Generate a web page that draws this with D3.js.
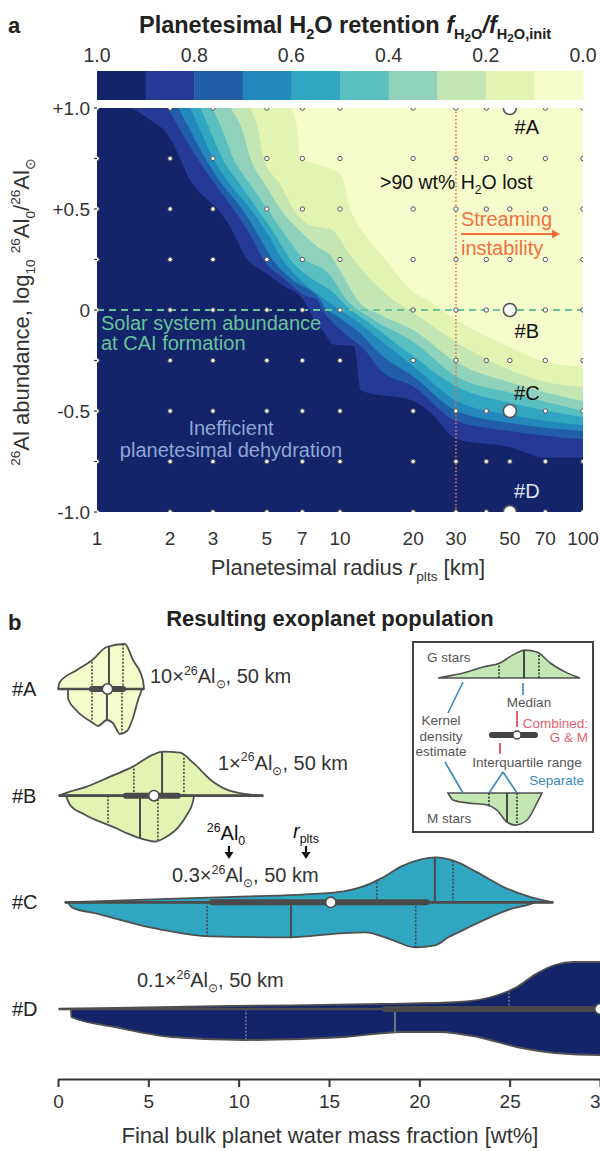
<!DOCTYPE html>
<html>
<head>
<meta charset="utf-8">
<script src="https://cdn.jsdelivr.net/npm/d3@7"></script>
<style>
  body { margin: 0; background: #fff; }
  svg { display: block; }
  text { font-family: "Liberation Sans", Arial, Helvetica, sans-serif; }
</style>
</head>
<body>
<svg id="chart" width="600" height="1151"></svg>
<script>
// ---------------- data: panel a ----------------
const levelColors = ["#14246b", "#243a95", "#225ea7", "#2389bc", "#30a6c2",
                     "#5abfc0", "#8fd1ba", "#c3e6b3", "#e3f3b2", "#f6fbcc"];
const colorbarTicks = [1.0, 0.8, 0.6, 0.4, 0.2, 0.0];
const retentionThresholds = [0.9, 0.8, 0.7, 0.6, 0.5, 0.4, 0.3, 0.2, 0.1];
const radiusTicks = [1, 2, 3, 5, 7, 10, 20, 30, 50, 70, 100];
const abundanceTicks = [1, 0.5, 0, -0.5, -1];
const abundanceTickLabels = ["+1.0", "+0.5", "0", "-0.5", "-1.0"];
const abundanceMinorTicks = [0.75, 0.25, -0.25, -0.75];
const gridRadii = [1, 2, 3, 5, 7, 10, 20, 30, 40, 50, 70, 100];
const gridAbundances = [1, 0.75, 0.5, 0.25, 0, -0.25, -0.5, -0.75, -1];
const streamingRadius = 30;

// retention contour lines [radius km, log10 26Al0/26Al_sun], one per threshold
const contour90 = [[1.39,1.0],[1.61,0.95],[2.0,0.85],[2.2,0.75],[2.35,0.67],[2.66,0.58],[3.13,0.5],[3.54,0.41],[4.16,0.25],[4.84,0.19],[5.85,0.12],[7.07,0.05],[7.93,-0.06],[8.71,-0.12],[9.31,-0.17],[11.4,-0.18],[12.2,-0.4],[20.1,-0.45],[23.6,-0.51],[30.2,-0.64],[50.5,-0.68],[69,-0.73],[100,-0.73]];
const contour80 = [[1.96,1.0],[2.2,0.89],[2.59,0.75],[3.07,0.62],[3.64,0.5],[4.28,0.37],[4.84,0.25],[5.96,0.15],[7.21,0.07],[8.08,0.05],[8.47,0],[9.14,-0.05],[10.5,-0.12],[12.7,-0.2],[14.7,-0.3],[20.1,-0.38],[30.2,-0.55],[50.5,-0.6],[100,-0.64]];
const contour70 = [[2.16,1.0],[2.42,0.89],[2.79,0.75],[3.28,0.62],[3.96,0.5],[4.61,0.37],[5.27,0.25],[6.37,0.15],[8.31,0.05],[8.71,0.01],[9.58,-0.025],[12.2,-0.12],[14.7,-0.22],[20.1,-0.33],[30.2,-0.5],[50.5,-0.56],[100,-0.6]];
const contour60 = [[2.42,1.0],[2.66,0.89],[3.01,0.75],[3.54,0.62],[4.28,0.5],[5.07,0.37],[5.79,0.25],[6.87,0.15],[8.71,0.05],[9.31,0.025],[12.2,-0.07],[15.4,-0.17],[20.1,-0.28],[30.2,-0.45],[50.5,-0.52],[100,-0.57]];
const contour50 = [[2.66,1.0],[2.92,0.89],[3.28,0.75],[3.89,0.62],[4.57,0.5],[5.42,0.37],[6.25,0.25],[7.56,0.16],[9.31,0.09],[10.5,0.025],[13.4,-0.07],[20.1,-0.23],[30.2,-0.38],[50.5,-0.46],[100,-0.53]];
const contour40 = [[2.98,1.0],[3.28,0.89],[3.64,0.75],[4.28,0.62],[5.02,0.5],[5.96,0.37],[6.87,0.27],[9.14,0.17],[10.5,0.06],[13.4,-0.04],[20.1,-0.16],[30.2,-0.33],[50.5,-0.41],[100,-0.5]];
const contour30 = [[3.54,1.0],[3.96,0.89],[4.28,0.75],[4.93,0.62],[5.68,0.5],[6.87,0.39],[8.15,0.31],[9.14,0.27],[10.5,0.15],[11.8,0.05],[14.7,-0.025],[20.1,-0.1],[30.2,-0.26],[50.5,-0.36],[100,-0.45]];
const contour20 = [[4.28,1.0],[4.61,0.89],[4.84,0.75],[5.68,0.62],[6.43,0.5],[7.56,0.42],[9.14,0.4],[11.05,0.27],[13.4,0.15],[16.6,0.05],[20.1,-0.015],[30.2,-0.16],[50.5,-0.3],[71.7,-0.36],[100,-0.38]];
const contour10 = [[6.25,1.0],[6.68,0.89],[6.87,0.75],[8.15,0.72],[10.05,0.67],[11.05,0.5],[12.7,0.37],[15.4,0.25],[19.5,0.1],[23.6,0.04],[30.2,-0.05],[47.2,-0.17],[71.7,-0.26],[100,-0.28]];
const contours = [contour90, contour80, contour70, contour60, contour50, contour40, contour30, contour20, contour10];

// ---------------- data: panel b ----------------
const cases = ["#A", "#B", "#C", "#D"];
const caseRadius = [50, 50, 50, 50];
const caseLogAl = [1, 0, -0.5, -1];
const caseAlFactor = ["10", "1", "0.3", "0.1"];
const wtTicks = [0, 5, 10, 15, 20, 25, 30];

// kernel density outlines [water wt%, relative density]; G stars above, M stars below
const kdeG_A = [[0,0],[0.1,0.14],[1.05,0.38],[1.9,0.58],[2.7,0.84],[3.7,0.9],[4.15,0.58],[4.7,0.18],[4.76,0]];
const kdeM_A = [[0.55,0],[0.56,0.2],[1.05,0.44],[1.94,0.68],[2.21,0.74],[2.71,0.62],[3.04,0.68],[3.43,0.9],[3.82,0.84],[4.15,0.58],[4.43,0.22],[4.65,0]];
const kdeG_B = [[0.06,0],[0.5,0.06],[1.6,0.18],[2.88,0.38],[4.15,0.58],[5.26,0.82],[5.81,0.88],[6.75,0.86],[7.47,0.66],[8.58,0.28],[9.68,0.08],[11.35,0]];
const kdeM_B = [[0.44,0],[0.66,0.18],[1.49,0.38],[2.32,0.52],[3.15,0.64],[3.87,0.76],[4.81,0.88],[5.37,0.92],[5.92,0.84],[6.64,0.64],[7.14,0.38],[7.47,0.12],[7.53,0]];
const kdeG_C = [[0.39,0],[5.26,0.06],[10.6,0.12],[13.7,0.16],[15.8,0.22],[16.9,0.32],[18.0,0.5],[19.0,0.72],[20.1,0.86],[20.9,0.9],[22.0,0.82],[23.2,0.6],[24.7,0.3],[26.2,0.1],[27.4,0]];
const kdeM_C = [[0.55,0],[0.77,0.1],[2.32,0.24],[5.09,0.5],[8.41,0.68],[12.84,0.7],[15.61,0.62],[17.0,0.6],[18.4,0.74],[19.76,0.9],[20.86,0.86],[21.6,0.7],[22.5,0.54],[23.9,0.3],[25.0,0.14],[26.1,0.04],[26.4,0]];
const kdeG_D = [[0.06,0],[9.52,0.06],[17.98,0.1],[22.2,0.14],[24.35,0.28],[25.4,0.44],[26.45,0.7],[27.5,0.88],[28.55,0.94],[30,0.94],[31.5,0.9]];
const kdeM_D = [[0.72,0],[0.73,0.16],[3.15,0.36],[6.31,0.56],[10.35,0.62],[15.83,0.56],[19.04,0.46],[21.14,0.46],[23.24,0.56],[25.4,0.76],[27.5,0.88],[30,0.92],[31.5,0.92]];
const kdeG = [kdeG_A, kdeG_B, kdeG_C, kdeG_D];
const kdeM = [kdeM_A, kdeM_B, kdeM_C, kdeM_D];

// quartiles [q1, median, q3] (null = beyond the axis)
const quartG = [[1.88, 2.82, 3.6], [4.2, 5.76, 6.97], [17.65, 20.86, 21.86], [24.96, null, null]];
const quartM = [[1.88, 2.71, 3.54], [2.77, 4.54, 5.53], [8.25, 12.9, 19.8], [10.4, 18.65, null]];
const quartAll = [[1.88, 2.74, 3.6], [3.76, 5.31, 6.64], [8.52, 15.1, 20.4], [18.1, 30.0, 31.5]];
const caseFill = [levelColors[9], levelColors[8], levelColors[4], levelColors[0]];

// explanatory key shapes (unit space)
const keyG = [[0,0],[0.204,0.2],[0.317,0.37],[0.437,0.5],[0.528,0.77],[0.613,0.93],[0.697,0.87],[0.79,0.5],[0.908,0.17],[1,0]];
const keyM = [[0.07,0],[0.106,0.23],[0.204,0.33],[0.345,0.4],[0.415,0.57],[0.486,0.97],[0.542,1.07],[0.627,0.9],[0.697,0.33],[0.732,0]];
const keyQuartG = [0.43, 0.606, 0.711];
const keyQuartM = [0.359, 0.486, 0.556];
const keyQuartAll = [0.38, 0.556, 0.683];

// ---------------- helpers ----------------
const svg = d3.select("#chart");
const INK = "#333";
const LINE = "#505050";

// text with super/subscripts built from tspans
function rich(sel, parts, fs) {
  let cur = 0;
  parts.forEach(p => {
    let shift = 0, size = 1;
    if (p.k === "sup") { shift = -0.42; size = 0.62; }
    if (p.k === "sub") { shift = 0.25; size = 0.62; }
    if (p.k === "subsub") { shift = 0.4; size = 0.5; }
    const ts = sel.append("tspan").text(p.t)
      .attr("dy", (shift - cur) * fs)
      .attr("font-size", size * fs);
    if (p.it) ts.attr("font-style", "italic");
    cur = shift;
  });
  return sel;
}
function label(x, y, fs, opts = {}) {
  const t = svg.append("text").attr("x", x).attr("y", y).attr("font-size", fs)
    .attr("fill", opts.fill || INK)
    .attr("text-anchor", opts.anchor || "start");
  if (opts.bold) t.attr("font-weight", "bold");
  return t;
}
function densAt(arr, v) {
  for (let i = 1; i < arr.length; i++) {
    if (v <= arr[i][0]) {
      const [x0, d0] = arr[i - 1], [x1, d1] = arr[i];
      return d0 + (d1 - d0) * (v - x0) / (x1 - x0);
    }
  }
  return arr[arr.length - 1][1];
}

// ---------------- panel a ----------------
label(8, 33, 22, { bold: true, fill: "#222" }).text("a");
rich(label(345, 33, 23.5, { bold: true, anchor: "middle", fill: "#222" }), [
  { t: "Planetesimal H" }, { t: "2", k: "sub" }, { t: "O retention " },
  { t: "f", it: true }, { t: "H", k: "sub" }, { t: "2", k: "subsub" }, { t: "O", k: "sub" },
  { t: "/", it: true }, { t: "f", it: true }, { t: "H", k: "sub" }, { t: "2", k: "subsub" }, { t: "O,init", k: "sub" }
], 23.5);

// colour bar
const cb = d3.scaleLinear().domain([1, 0]).range([97, 583]);
svg.append("g").selectAll("rect").data(levelColors).join("rect")
  .attr("x", (d, i) => cb(1 - i * 0.1))
  .attr("y", 71).attr("height", 29)
  .attr("width", (d, i) => cb(1 - (i + 1) * 0.1) - cb(1 - i * 0.1) + 0.5)
  .attr("fill", d => d);
svg.append("g").selectAll("text").data(colorbarTicks).join("text")
  .attr("x", d => cb(d)).attr("y", 62).attr("text-anchor", "middle")
  .attr("font-size", 19.5).attr("fill", INK).text(d => d.toFixed(1));

// retention map
const xa = d3.scaleLog().domain([1, 100]).range([97, 583]);
const ya = d3.scaleLinear().domain([-1, 1]).range([512, 108]);
svg.append("clipPath").attr("id", "plotA").append("rect")
  .attr("x", xa(1)).attr("y", ya(1)).attr("width", xa(100) - xa(1)).attr("height", ya(-1) - ya(1));
const mapA = svg.append("g").attr("clip-path", "url(#plotA)");
mapA.append("rect").attr("x", xa(1)).attr("y", ya(1))
  .attr("width", xa(100) - xa(1)).attr("height", ya(-1) - ya(1)).attr("fill", levelColors[0]);
const contourLine = d3.line().x(d => xa(d[0])).y(d => ya(d[1])).curve(d3.curveMonotoneX);
contours.forEach((c, i) => {
  mapA.append("path")
    .attr("d", contourLine(c) + `L${xa(100)},${ya(1)}Z`)
    .attr("fill", levelColors[i + 1]);
});

// reference lines
mapA.append("line").attr("x1", xa(1)).attr("x2", xa(100)).attr("y1", ya(0)).attr("y2", ya(0))
  .attr("stroke", "#6cc49c").attr("stroke-width", 2).attr("stroke-dasharray", "7 5");
mapA.append("line").attr("x1", xa(streamingRadius)).attr("x2", xa(streamingRadius))
  .attr("y1", ya(1)).attr("y2", ya(-1))
  .attr("stroke", "#f26b4a").attr("stroke-width", 1.6).attr("stroke-dasharray", "1.5 2.2");

// simulation grid
const gridPts = gridAbundances.flatMap(a => gridRadii.map(r => [r, a]));
mapA.append("g").selectAll("circle").data(gridPts).join("circle")
  .attr("cx", d => xa(d[0])).attr("cy", d => ya(d[1])).attr("r", 2.2)
  .attr("fill", "#fff").attr("stroke", "#555").attr("stroke-width", 1);
mapA.append("g").selectAll("circle").data(cases).join("circle")
  .attr("cx", (d, i) => xa(caseRadius[i])).attr("cy", (d, i) => ya(caseLogAl[i])).attr("r", 6.5)
  .attr("fill", "#fff").attr("stroke", "#555").attr("stroke-width", 1.6);

// case labels on the map
const caseLabelDy = [26, 28, -11, -14];
cases.forEach((c, i) => {
  label(xa(caseRadius[i]) + 17, ya(caseLogAl[i]) + caseLabelDy[i], 20,
    { anchor: "middle", fill: i === 3 ? "#dfe3f2" : "#111" }).text(c);
});

// annotations
rich(label(380, 189, 19.5, { fill: "#111" }),
  [{ t: ">90 wt% H" }, { t: "2", k: "sub" }, { t: "O lost" }], 19.5);
label(xa(streamingRadius) + 5, 226, 20, { fill: "#f4703f" }).text("Streaming");
label(xa(streamingRadius) + 5, 255, 20, { fill: "#f4703f" }).text("instability");
svg.append("line").attr("x1", xa(streamingRadius) + 5).attr("x2", 553).attr("y1", 234).attr("y2", 234)
  .attr("stroke", "#f4703f").attr("stroke-width", 2);
svg.append("path").attr("d", "M552,229.5L560,234L552,238.5Z").attr("fill", "#f4703f");
label(101, 330, 20, { fill: "#68c29a" }).text("Solar system abundance");
label(101, 350, 20, { fill: "#68c29a" }).text("at CAI formation");
label(231, 435, 20, { fill: "#8ea6d6", anchor: "middle" }).text("Inefficient");
label(231, 457, 20, { fill: "#8ea6d6", anchor: "middle" }).text("planetesimal dehydration");

// axes of panel a
svg.append("g").selectAll("line").data(abundanceTicks.concat(abundanceMinorTicks)).join("line")
  .attr("x1", xa(1) - 3).attr("x2", xa(1)).attr("y1", d => ya(d)).attr("y2", d => ya(d))
  .attr("stroke", INK).attr("stroke-width", 1.2);
svg.append("g").selectAll("text").data(abundanceTicks).join("text")
  .attr("x", 90).attr("y", d => ya(d) + 7).attr("text-anchor", "end")
  .attr("font-size", 19).attr("fill", INK).text((d, i) => abundanceTickLabels[i]);
svg.append("g").selectAll("text").data(radiusTicks).join("text")
  .attr("x", d => xa(d)).attr("y", 545).attr("text-anchor", "middle")
  .attr("font-size", 19).attr("fill", INK).text(d => d);
rich(label(348, 575, 22, { anchor: "middle" }),
  [{ t: "Planetesimal radius " }, { t: "r", it: true }, { t: "plts", k: "sub" }, { t: " [km]" }], 22);
rich(svg.append("text").attr("transform", "translate(29,312) rotate(-90)")
  .attr("text-anchor", "middle").attr("font-size", 22).attr("fill", INK), [
  { t: "26", k: "sup" }, { t: "Al abundance, log" }, { t: "10", k: "sub" }, { t: " " },
  { t: "26", k: "sup" }, { t: "Al" }, { t: "0", k: "sub" }, { t: "/" },
  { t: "26", k: "sup" }, { t: "Al" }, { t: "⊙", k: "sub" }
], 22);

// ---------------- panel b ----------------
label(8, 630, 22, { bold: true, fill: "#222" }).text("b");
label(330, 626, 22, { bold: true, anchor: "middle", fill: "#222" }).text("Resulting exoplanet population");

const xb = d3.scaleLinear().domain([0, 30]).range([58, 600]);
const rowY = d3.scalePoint().domain(cases).range([689, 1009]);
const dens = d3.scaleLinear().domain([0, 1]).range([0, 50]);

cases.forEach((c, i) => {
  const cy = rowY(c);
  const g = svg.append("g");
  const upper = d3.area().x(d => xb(d[0])).y0(cy).y1(d => cy - dens(d[1])).curve(d3.curveMonotoneX);
  const lower = d3.area().x(d => xb(d[0])).y0(cy).y1(d => cy + dens(d[1])).curve(d3.curveMonotoneX);
  g.append("path").attr("d", upper(kdeG[i])).attr("fill", caseFill[i])
    .attr("stroke", LINE).attr("stroke-width", 1.8).attr("stroke-linejoin", "round");
  g.append("path").attr("d", lower(kdeM[i])).attr("fill", caseFill[i])
    .attr("stroke", LINE).attr("stroke-width", 1.8).attr("stroke-linejoin", "round");
  const inner = i === 3 ? "#6f7488" : "#4a4a4a";
  [[quartG[i], kdeG[i], -1], [quartM[i], kdeM[i], 1]].forEach(([q, kde, sgn]) => {
    q.forEach((v, k) => {
      if (v === null) return;
      g.append("line").attr("x1", xb(v)).attr("x2", xb(v))
        .attr("y1", cy).attr("y2", cy + sgn * dens(densAt(kde, v)))
        .attr("stroke", inner).attr("stroke-width", k === 1 ? 2 : 1.6)
        .attr("stroke-dasharray", k === 1 ? null : "2 1.6");
    });
  });
  const lo = Math.min(kdeG[i][0][0], kdeM[i][0][0]);
  const hi = Math.max(kdeG[i][kdeG[i].length - 1][0], kdeM[i][kdeM[i].length - 1][0]);
  g.append("line").attr("x1", xb(lo)).attr("x2", xb(hi)).attr("y1", cy).attr("y2", cy)
    .attr("stroke", "#4d4d4d").attr("stroke-width", 2.6);
  g.append("line").attr("x1", xb(quartAll[i][0])).attr("x2", xb(quartAll[i][2]))
    .attr("y1", cy).attr("y2", cy).attr("stroke", "#4a4a4a").attr("stroke-width", 6)
    .attr("stroke-linecap", "round");
  g.append("circle").attr("cx", xb(quartAll[i][1])).attr("cy", cy).attr("r", 5.2)
    .attr("fill", "#fff").attr("stroke", "#4a4a4a").attr("stroke-width", 1.6);
  label(12, cy + 7, 20, { fill: "#222" }).text(c);
});

// case descriptions
const descX = [150, 218, 172, 137];
const descDy = [-6, -26, -20, -22];
cases.forEach((c, i) => {
  rich(label(descX[i], rowY(c) + descDy[i], 20), [
    { t: caseAlFactor[i] + "×" }, { t: "26", k: "sup" }, { t: "Al" }, { t: "⊙", k: "sub" },
    { t: ", " + caseRadius[i] + " km" }
  ], 20);
});
// parameter pointers above #C
rich(label(226, 840, 20, { anchor: "middle", fill: "#111" }),
  [{ t: "26", k: "sup" }, { t: "Al" }, { t: "0", k: "sub" }], 20);
rich(label(306, 838, 20, { anchor: "middle", fill: "#111" }),
  [{ t: "r", it: true }, { t: "plts", k: "sub" }], 20);
[229, 306].forEach(x => {
  svg.append("line").attr("x1", x).attr("x2", x).attr("y1", 846).attr("y2", 853)
    .attr("stroke", "#111").attr("stroke-width", 2.2);
  svg.append("path").attr("d", `M${x - 4.5},852L${x + 4.5},852L${x},859Z`).attr("fill", "#111");
});

// axis of panel b
const axB = svg.append("g").attr("transform", "translate(0,1079)")
  .call(d3.axisBottom(xb).tickValues(wtTicks).tickSize(8).tickSizeOuter(0).tickPadding(8));
axB.select(".domain").attr("stroke", INK).attr("stroke-width", 2);
axB.selectAll(".tick line").attr("stroke", INK).attr("stroke-width", 2);
axB.selectAll(".tick text").attr("font-size", 19).attr("fill", INK)
  .attr("font-family", '"Liberation Sans", Arial, sans-serif');
label(330, 1143, 22, { anchor: "middle" }).text("Final bulk planet water mass fraction [wt%]");

// ---------------- key ----------------
svg.append("rect").attr("x", 413).attr("y", 642).attr("width", 180).attr("height", 190)
  .attr("fill", "#fff").attr("stroke", "#444").attr("stroke-width", 2);
const kx = d3.scaleLinear().domain([0, 1]).range([438, 580]);
const kd = d3.scaleLinear().domain([0, 1]).range([0, 30]);
const keyFill = levelColors[7];
const gBase = 678, mBase = 793;
svg.append("path")
  .attr("d", d3.area().x(d => kx(d[0])).y0(gBase).y1(d => gBase - kd(d[1])).curve(d3.curveMonotoneX)(keyG))
  .attr("fill", keyFill).attr("stroke", LINE).attr("stroke-width", 1.6);
svg.append("path")
  .attr("d", d3.area().x(d => kx(d[0])).y0(mBase).y1(d => mBase + kd(d[1])).curve(d3.curveMonotoneX)(keyM))
  .attr("fill", keyFill).attr("stroke", LINE).attr("stroke-width", 1.6);
[[keyQuartG, keyG, gBase, -1], [keyQuartM, keyM, mBase, 1]].forEach(([q, kde, base, sgn]) => {
  q.forEach((v, k) => {
    svg.append("line").attr("x1", kx(v)).attr("x2", kx(v))
      .attr("y1", base).attr("y2", base + sgn * kd(densAt(kde, v)))
      .attr("stroke", "#3a3a3a").attr("stroke-width", k === 1 ? 1.8 : 1.6)
      .attr("stroke-dasharray", k === 1 ? null : "2 1.5");
  });
});
svg.append("line").attr("x1", kx(keyQuartAll[0])).attr("x2", kx(keyQuartAll[2]))
  .attr("y1", 735).attr("y2", 735).attr("stroke", "#444").attr("stroke-width", 6).attr("stroke-linecap", "round");
svg.append("circle").attr("cx", kx(keyQuartAll[1])).attr("cy", 735).attr("r", 4)
  .attr("fill", "#fff").attr("stroke", "#444").attr("stroke-width", 1.4);

const BLUE = "#3a89bd", RED = "#e4606b", GREY = "#555";
[[463, 682, 448, 713], [523, 683, 523, 695], [445, 762, 463, 793], [489, 793, 503, 772], [503, 772, 517, 793]]
  .forEach(([x1, y1, x2, y2]) => svg.append("line").attr("x1", x1).attr("y1", y1).attr("x2", x2).attr("y2", y2)
    .attr("stroke", BLUE).attr("stroke-width", 1.6));
[[517, 711, 517, 727], [500, 743, 500, 754]]
  .forEach(([x1, y1, x2, y2]) => svg.append("line").attr("x1", x1).attr("y1", y1).attr("x2", x2).attr("y2", y2)
    .attr("stroke", RED).attr("stroke-width", 2));
label(427, 662, 13.5, { fill: GREY }).text("G stars");
label(529, 707, 13.5, { fill: GREY, anchor: "middle" }).text("Median");
label(441, 725, 13.5, { fill: GREY, anchor: "middle" }).text("Kernel");
label(441, 741, 13.5, { fill: GREY, anchor: "middle" }).text("density");
label(441, 756, 13.5, { fill: GREY, anchor: "middle" }).text("estimate");
label(588, 728, 13.5, { fill: RED, anchor: "end" }).text("Combined:");
label(588, 742, 13.5, { fill: RED, anchor: "end" }).text("G & M");
label(527, 767, 13.5, { fill: GREY, anchor: "middle" }).text("Interquartile range");
label(584, 785, 13.5, { fill: BLUE, anchor: "end" }).text("Separate");
label(427, 823, 13.5, { fill: GREY }).text("M stars");
</script>
</body>
</html>
